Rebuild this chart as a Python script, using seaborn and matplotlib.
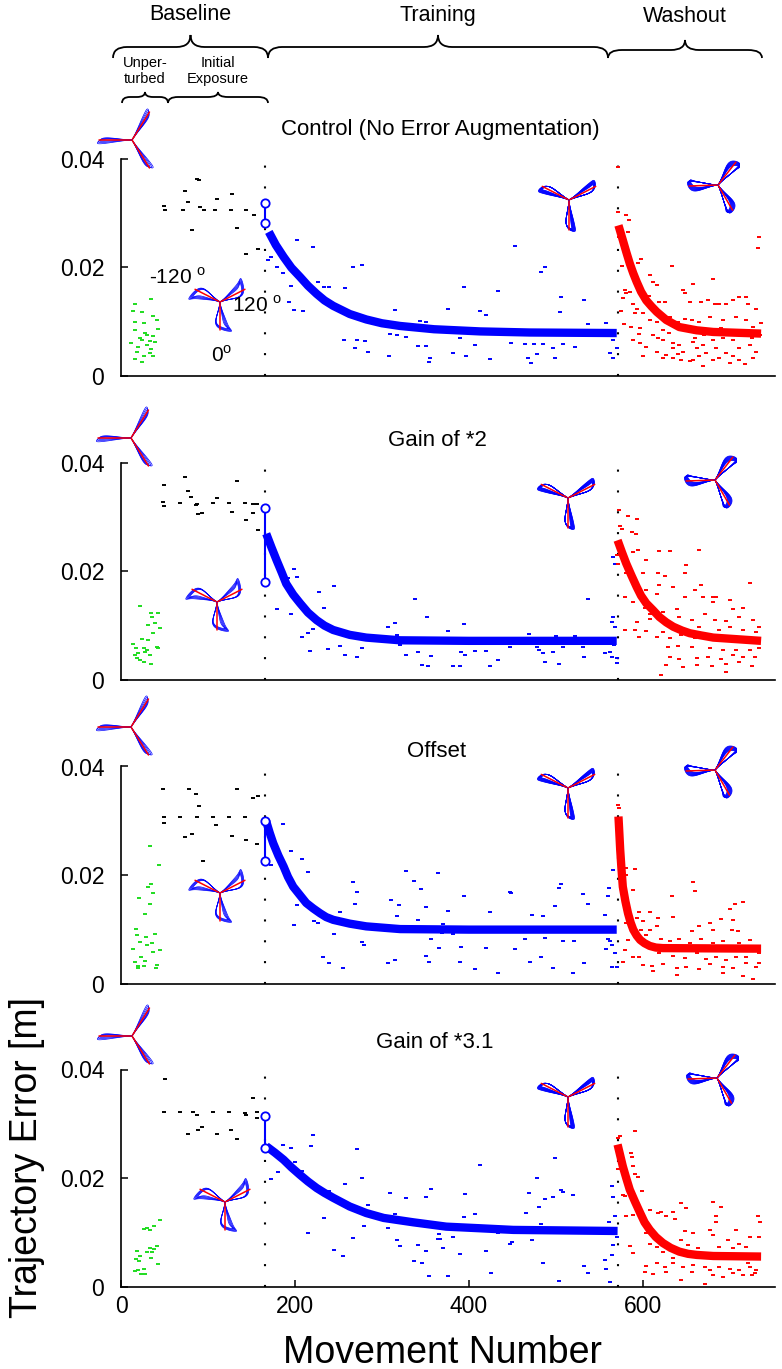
import numpy as np
import matplotlib
matplotlib.use("Agg")
import matplotlib.pyplot as plt
from matplotlib.path import Path
from matplotlib.patches import PathPatch
import seaborn as sns

W, H = 782, 1369

TITLES = ["Control (No Error Augmentation)", "Gain of *2", "Offset", "Gain of *3.1"]
PHASES = ["Baseline", "Training", "Washout"]
SUBPHASES = ["Unper-\nturbed", "Initial\nExposure"]
ANGLE_LABELS = ["-120", "120", "0"]
X_TICKS = [0, 200, 400, 600]
Y_TICKS = [0, 0.02, 0.04]
Y_TICKLABELS = ["0", "0.02", "0.04"]
TRAIN_START = 166
WASHOUT_START = 571

# ---------- panel 1 : control ----------
P1_GREEN = [(16, .0132), (35, .0141), (14, .0120), (24, .0117), (37, .0110), (41, .0103), (16, .0100),
            (26, .0097), (43, .0086), (16, .0084), (30, .0075), (37, .0073), (24, .0066), (33, .0065),
            (39, .0062), (20, .0054), (30, .0057), (35, .0049), (18, .0045), (33, .0042), (26, .0036),
            (16, .0031), (24, .0026), (37, .0037), (22, .0070), (28, .0080), (12, .0060)]
P1_BLACK = [(87, .0362), (90, .0360), (74, .0340), (110, .0326), (128, .0334), (77, .0320), (50, .0312),
            (71, .0305), (91, .0310), (95, .0306), (108, .0305), (127, .0305), (144, .0305), (153, .0297),
            (51, .0305), (82, .0269), (133, .0273), (144, .0225), (158, .0234)]
P1_BLUE = [(173, .0219), (179, .0201), (186, .0190), (202, .0251), (221, .0237), (195, .0166), (227, .0173),
           (233, .0164), (239, .0164), (257, .0162), (193, .0136), (199, .0121), (209, .0119), (267, .0201),
           (277, .0204), (256, .0067), (271, .0066), (280, .0065), (269, .0051), (284, .0045), (308, .0036),
           (309, .0078), (317, .0075), (328, .0071), (315, .0121), (344, .0102), (351, .0099), (376, .0124),
           (413, .0119), (420, .0112), (394, .0164), (434, .0157), (453, .0239), (487, .0201), (483, .0192),
           (506, .0146), (532, .0140), (505, .0117), (537, .0095), (558, .0098), (390, .0069), (407, .0057),
           (342, .0055), (351, .0056), (355, .0033), (354, .0026), (382, .0042), (397, .0037), (424, .0031),
           (449, .0060), (464, .0058), (475, .0058), (485, .0058), (497, .0051), (508, .0058), (522, .0053),
           (468, .0033), (472, .0023), (478, .0040), (499, .0033), (561, .0085), (564, .0078), (566, .0066),
           (562, .0042), (566, .0033), (570, .0051), (169, .0213)]
P1_RED = [(571, .0384), (581, .0297), (584, .0286), (583, .0265), (571, .0302), (573, .0256), (581, .0237),
          (576, .0202), (579, .0158), (581, .0152), (577, .0143), (585, .0155), (589, .0133), (598, .0215),
          (594, .0207), (591, .0115), (608, .0186), (612, .0173), (616, .0167), (607, .0147), (619, .0137),
          (625, .0137), (633, .0203), (658, .0170), (681, .0178), (646, .0158), (648, .0152), (654, .0137),
          (667, .0137), (675, .0140), (683, .0132), (688, .0132), (696, .0132), (704, .0140), (711, .0146),
          (719, .0146), (721, .0133), (730, .0124), (734, .0256), (733, .0236), (736, .0098), (593, .0124),
          (600, .0115), (608, .0103), (616, .0100), (623, .0085), (631, .0109), (640, .0100), (648, .0104),
          (656, .0103), (665, .0100), (677, .0109), (692, .0103), (707, .0109), (719, .0103), (727, .0091),
          (596, .0078), (612, .0075), (623, .0066), (635, .0060), (642, .0057), (658, .0063), (669, .0057),
          (681, .0066), (692, .0069), (704, .0066), (715, .0075), (723, .0057), (730, .0045), (604, .0054),
          (616, .0045), (627, .0039), (635, .0051), (646, .0045), (662, .0051), (673, .0042), (684, .0051),
          (696, .0042), (711, .0051), (623, .0033), (635, .0033), (644, .0030), (654, .0027), (669, .0019),
          (681, .0030), (688, .0033), (700, .0023), (711, .0030), (717, .0022), (727, .0033), (589, .0066),
          (600, .0036), (658, .0030), (665, .0036), (704, .0036), (575, .0120), (578, .0095), (586, .0090),
          (597, .0088), (630, .0080), (652, .0085), (670, .0075), (690, .0088), (700, .0080), (725, .0070),
          (735, .0075), (660, .0070), (618, .0070), (597, .0060), (640, .0040)]
P1_FIT_BLUE_X = [170, 178, 187, 196, 206, 215, 225, 234, 244, 263, 282, 300, 321, 360, 413, 470, 570]
P1_FIT_BLUE_Y = [.0265, .0241, .0219, .0199, .0182, .0166, .0151, .0139, .0129, .0114, .0104, .0097,
                 .0092, .0086, .0082, .0080, .0079]
P1_FIT_RED_X = [572, 577, 581, 585, 589, 593, 598, 604, 610, 616, 627, 642, 662, 681, 736]
P1_FIT_RED_Y = [.0277, .0250, .0228, .0207, .0189, .0173, .0155, .0139, .0128, .0118, .0103, .0090,
                .0084, .0081, .0078]
P1_START = [.0319, .0281]

# ---------- panel 2 : gain of 2 ----------
P2_GREEN = [(22, .0136), (35, .0124), (43, .0124), (36, .0116), (31, .0101), (39, .0105), (45, .0095),
            (37, .0086), (24, .0075), (14, .0067), (31, .0073), (26, .0058), (41, .0061), (30, .0056),
            (20, .0049), (16, .0046), (33, .0046), (28, .0052), (22, .0037), (18, .0040), (35, .0029),
            (26, .0034), (43, .0058), (17, .0058)]
P2_BLACK = [(74, .0374), (50, .0358), (133, .0366), (77, .0347), (81, .0336), (110, .0335), (87, .0324),
            (48, .0327), (49, .0320), (68, .0325), (86, .0321), (89, .0306), (93, .0308), (106, .0325),
            (124, .0325), (128, .0309), (143, .0325), (152, .0324), (156, .0323), (144, .0295), (152, .0308),
            (158, .0275)]
P2_BLUE = [(199, .0204), (202, .0190), (192, .0187), (179, .0130), (195, .0122), (228, .0162), (245, .0172),
           (233, .0133), (208, .0080), (215, .0087), (221, .0093), (217, .0054), (238, .0057), (252, .0062),
           (257, .0046), (271, .0042), (277, .0058), (275, .0083), (307, .0098), (315, .0105), (317, .0083),
           (321, .0064), (328, .0046), (338, .0149), (342, .0052), (346, .0027), (353, .0025), (352, .0115),
           (356, .0044), (376, .0090), (382, .0026), (390, .0025), (391, .0052), (396, .0046), (394, .0103),
           (407, .0054), (420, .0054), (424, .0026), (434, .0036), (447, .0061), (464, .0078), (469, .0084),
           (478, .0060), (481, .0055), (485, .0050), (487, .0034), (497, .0051), (500, .0081), (504, .0029),
           (508, .0061), (522, .0081), (531, .0061), (532, .0043), (537, .0149), (557, .0049), (562, .0052),
           (564, .0043), (566, .0116), (565, .0107), (568, .0098), (567, .0064), (570, .0040), (570, .0031),
           (568, .0214), (566, .0226)]
P2_RED = [(573, .0313), (583, .0301), (593, .0297), (574, .0284), (576, .0278), (587, .0272), (592, .0269),
          (570, .0229), (571, .0214), (589, .0236), (594, .0240), (619, .0237), (631, .0237), (665, .0240),
          (604, .0220), (650, .0212), (648, .0197), (581, .0196), (600, .0196), (617, .0196), (625, .0191),
          (593, .0165), (604, .0165), (619, .0174), (635, .0171), (667, .0174), (723, .0179), (579, .0153),
          (589, .0143), (616, .0159), (648, .0153), (660, .0165), (669, .0152), (681, .0153), (684, .0153),
          (700, .0147), (602, .0132), (608, .0122), (623, .0125), (639, .0130), (681, .0144), (704, .0130),
          (715, .0132), (593, .0107), (608, .0113), (625, .0108), (642, .0116), (656, .0110), (671, .0122),
          (683, .0110), (696, .0109), (711, .0116), (727, .0110), (579, .0092), (591, .0092), (604, .0091),
          (623, .0089), (635, .0095), (650, .0092), (665, .0098), (688, .0092), (700, .0097), (715, .0092),
          (730, .0089), (734, .0098), (596, .0080), (616, .0080), (631, .0078), (644, .0083), (660, .0078),
          (677, .0080), (696, .0081), (711, .0077), (727, .0074), (629, .0061), (640, .0062), (656, .0060),
          (677, .0058), (692, .0056), (707, .0055), (723, .0056), (734, .0058), (631, .0042), (642, .0038),
          (662, .0040), (675, .0042), (690, .0038), (704, .0046), (715, .0043), (729, .0043), (627, .0027),
          (646, .0023), (662, .0027), (679, .0026), (696, .0029), (711, .0034), (725, .0026), (621, .0009),
          (696, .0015)]
P2_FIT_BLUE_X = [167, 173, 179, 185, 190, 198, 206, 215, 225, 234, 244, 263, 282, 321, 400, 570]
P2_FIT_BLUE_Y = [.0269, .0244, .0220, .0197, .0177, .0157, .0141, .0124, .0110, .0100, .0092, .0083,
                 .0078, .0073, .0072, .0072]
P2_FIT_RED_X = [571, 576, 581, 587, 593, 598, 604, 612, 619, 627, 635, 645, 654, 667, 681, 736]
P2_FIT_RED_Y = [.0257, .0235, .0214, .0192, .0171, .0155, .0141, .0128, .0116, .0106, .0098, .0091,
                .0086, .0082, .0078, .0072]
P2_START = [.0317, .0180]

# ---------- panel 3 : offset ----------
P3_GREEN = [(33, .0254), (44, .0218), (34, .0184), (31, .0178), (37, .0167), (21, .0159), (33, .0148),
            (28, .0128), (17, .0101), (18, .0090), (39, .0092), (22, .0077), (29, .0086), (36, .0076),
            (14, .0065), (30, .0072), (45, .0063), (37, .0058), (23, .0049), (28, .0043), (16, .0040),
            (20, .0034), (26, .0034), (41, .0035), (40, .0029), (19, .0030)]
P3_BLACK = [(48, .0359), (78, .0359), (86, .0350), (133, .0359), (90, .0328), (152, .0342), (158, .0345),
            (49, .0307), (68, .0307), (87, .0307), (106, .0307), (124, .0307), (143, .0307), (50, .0296),
            (109, .0293), (82, .0275), (74, .0270), (128, .0272), (144, .0264), (156, .0258), (94, .0227)]
P3_BLUE = [(186, .0294), (172, .0219), (195, .0244), (208, .0230), (215, .0206), (202, .0146), (199, .0108),
           (222, .0116), (227, .0113), (252, .0132), (267, .0187), (271, .0169), (269, .0147), (245, .0092),
           (277, .0078), (279, .0072), (232, .0050), (239, .0038), (255, .0029), (328, .0207), (364, .0205),
           (337, .0189), (345, .0175), (310, .0154), (320, .0146), (317, .0125), (351, .0141), (376, .0135),
           (394, .0161), (342, .0117), (370, .0110), (369, .0093), (382, .0092), (424, .0133), (447, .0170),
           (449, .0167), (506, .0183), (504, .0176), (531, .0165), (537, .0147), (499, .0144), (473, .0126),
           (485, .0125), (560, .0162), (556, .0127), (566, .0210), (561, .0176), (356, .0082), (366, .0067),
           (391, .0068), (420, .0066), (453, .0064), (464, .0082), (487, .0084), (508, .0080), (521, .0080),
           (560, .0082), (562, .0080), (558, .0064), (564, .0072), (568, .0057), (351, .0052), (354, .0040),
           (390, .0041), (407, .0028), (434, .0021), (470, .0041), (483, .0049), (497, .0030), (520, .0020),
           (532, .0038), (564, .0032), (570, .0032), (315, .0045), (307, .0039)]
P3_RED = [(571, .0330), (573, .0324), (581, .0214), (591, .0212), (581, .0201), (589, .0172), (658, .0187),
          (660, .0171), (633, .0162), (715, .0151), (706, .0148), (700, .0138), (596, .0132), (608, .0132),
          (617, .0121), (593, .0121), (600, .0115), (635, .0123), (690, .0120), (704, .0117), (581, .0112),
          (598, .0100), (608, .0100), (616, .0106), (656, .0098), (665, .0106), (677, .0113), (681, .0100),
          (702, .0100), (709, .0097), (593, .0086), (604, .0090), (621, .0082), (631, .0080), (642, .0083),
          (654, .0075), (667, .0082), (681, .0076), (692, .0079), (711, .0075), (723, .0081), (589, .0050),
          (596, .0050), (619, .0057), (635, .0052), (648, .0047), (662, .0057), (673, .0046), (684, .0050),
          (696, .0044), (707, .0050), (719, .0049), (734, .0057), (577, .0040), (600, .0035), (610, .0034),
          (623, .0036), (639, .0029), (650, .0032), (665, .0028), (677, .0036), (692, .0032), (704, .0030),
          (719, .0038), (730, .0032), (612, .0023), (639, .0017), (692, .0020), (715, .0014), (727, .0010),
          (734, .0038), (579, .0063), (583, .0081), (646, .0069), (681, .0063)]
P3_FIT_BLUE_X = [167, 171, 175, 181, 187, 192, 198, 206, 213, 221, 229, 236, 244, 263, 282, 321, 400, 570]
P3_FIT_BLUE_Y = [.0299, .0278, .0259, .0236, .0216, .0197, .0179, .0163, .0149, .0139, .0130, .0123,
                 .0118, .0111, .0106, .0101, .0100, .0100]
P3_FIT_RED_X = [572, 573, 574, 575.5, 577, 580, 583, 586, 589, 593, 597, 602, 608, 615, 623, 736]
P3_FIT_RED_Y = [.0308, .0278, .0247, .0211, .0179, .0152, .0130, .0113, .0100, .0089, .0081, .0075,
                .0070, .0067, .0066, .0065]
P3_START = [.0299, .0227]

# ---------- panel 4 : gain of 3.1 ----------
P4_GREEN = [(45, .0124), (38, .0113), (26, .0106), (33, .0105), (30, .0108), (41, .0076), (33, .0071),
            (38, .0069), (36, .0064), (18, .0066), (30, .0064), (22, .0057), (17, .0051), (35, .0053),
            (43, .0042), (21, .0047), (26, .0034), (16, .0030), (23, .0024), (28, .0024), (20, .0031)]
P4_BLACK = [(51, .0383), (152, .0348), (49, .0322), (68, .0322), (83, .0322), (87, .0316), (106, .0322),
            (124, .0322), (143, .0320), (144, .0317), (156, .0322), (156, .0311), (93, .0294), (89, .0289),
            (77, .0282), (110, .0281), (127, .0288), (133, .0272)]
P4_BLUE = [(186, .0262), (195, .0256), (221, .0280), (218, .0260), (200, .0230), (208, .0214), (180, .0211),
           (172, .0199), (271, .0254), (277, .0200), (257, .0190), (239, .0177), (284, .0150), (233, .0127),
           (215, .0100), (279, .0113), (267, .0091), (245, .0068), (255, .0057), (309, .0173), (315, .0135),
           (307, .0109), (328, .0163), (351, .0165), (356, .0181), (396, .0171), (413, .0225), (407, .0135),
           (394, .0129), (499, .0238), (478, .0200), (469, .0173), (487, .0161), (497, .0165), (506, .0179),
           (508, .0174), (520, .0170), (481, .0148), (466, .0136), (483, .0116), (464, .0111), (317, .0087),
           (321, .0076), (342, .0078), (351, .0067), (366, .0097), (367, .0088), (365, .0089), (370, .0071),
           (382, .0092), (390, .0061), (420, .0067), (434, .0099), (447, .0079), (450, .0082), (473, .0087),
           (485, .0045), (425, .0026), (376, .0021), (354, .0020), (337, .0047), (346, .0045), (504, .0011),
           (532, .0038), (537, .0025), (558, .0033), (562, .0010), (564, .0059), (557, .0050), (566, .0077),
           (565, .0185), (566, .0165), (568, .0130), (561, .0119), (570, .0092)]
P4_RED = [(571, .0274), (574, .0277), (591, .0286), (571, .0217), (586, .0246), (587, .0240), (589, .0222),
          (591, .0208), (594, .0203), (599, .0176), (577, .0170), (580, .0167), (589, .0133), (581, .0130),
          (593, .0142), (608, .0142), (617, .0136), (621, .0138), (635, .0138), (644, .0154), (650, .0145),
          (627, .0130), (637, .0125), (681, .0156), (690, .0147), (684, .0131), (684, .0119), (732, .0131),
          (735, .0120), (604, .0099), (608, .0080), (585, .0076), (589, .0062), (616, .0074), (623, .0065),
          (635, .0053), (648, .0103), (644, .0087), (658, .0099), (652, .0077), (663, .0071), (677, .0105),
          (681, .0096), (688, .0074), (698, .0087), (707, .0104), (711, .0079), (704, .0071), (723, .0092),
          (719, .0074), (734, .0092), (604, .0039), (616, .0044), (625, .0037), (635, .0044), (646, .0037),
          (658, .0041), (671, .0037), (677, .0031), (688, .0037), (700, .0033), (711, .0031), (723, .0037),
          (730, .0031), (602, .0028), (612, .0024), (627, .0028), (644, .0012), (656, .0028), (671, .0005),
          (681, .0022), (692, .0019), (704, .0025), (715, .0022), (725, .0022), (729, .0026), (721, .0044),
          (669, .0059), (681, .0056), (696, .0057), (715, .0059)]
P4_FIT_BLUE_X = [167, 177, 187, 196, 206, 215, 225, 234, 244, 263, 282, 302, 336, 374, 413, 451, 571]
P4_FIT_BLUE_Y = [.0259, .0247, .0234, .0220, .0206, .0194, .0182, .0173, .0164, .0148, .0136, .0127,
                 .0119, .0111, .0108, .0105, .0103]
P4_FIT_RED_X = [571, 574, 577, 581, 585, 591, 597, 602, 608, 615, 623, 632, 642, 652, 662, 681, 736]
P4_FIT_RED_Y = [.0262, .0242, .0222, .0200, .0179, .0157, .0136, .0119, .0105, .0092, .0081, .0072,
                .0065, .0061, .0059, .0057, .0056]
P4_START = [.0315, .0256]

GREEN = [P1_GREEN, P2_GREEN, P3_GREEN, P4_GREEN]
BLACK = [P1_BLACK, P2_BLACK, P3_BLACK, P4_BLACK]
BLUE = [P1_BLUE, P2_BLUE, P3_BLUE, P4_BLUE]
RED = [P1_RED, P2_RED, P3_RED, P4_RED]
FIT_BLUE = [(P1_FIT_BLUE_X, P1_FIT_BLUE_Y), (P2_FIT_BLUE_X, P2_FIT_BLUE_Y),
            (P3_FIT_BLUE_X, P3_FIT_BLUE_Y), (P4_FIT_BLUE_X, P4_FIT_BLUE_Y)]
FIT_RED = [(P1_FIT_RED_X, P1_FIT_RED_Y), (P2_FIT_RED_X, P2_FIT_RED_Y),
           (P3_FIT_RED_X, P3_FIT_RED_Y), (P4_FIT_RED_X, P4_FIT_RED_Y)]
START = [P1_START, P2_START, P3_START, P4_START]

# ---------- layout (pixels) ----------
AX_LEFT, AX_RIGHT, AX_H = 121, 775, 217.5
AX_BOTTOMS = [376, 680, 984, 1287]
TITLE_POS = [(440, 130), (437, 440), (437, 752), (435, 1042)]
ICONS = [  # (cx, cy, kind)
    [(132, 140, "base"), (220, 302, "expo"), (569, 200, "train"), (718, 185, "wash")],
    [(131, 438, "base"), (217, 602, "expo"), (568, 498, "train"), (715, 480, "wash")],
    [(131, 727, "base"), (220, 893, "expo"), (568, 788, "train"), (715, 770, "wash")],
    [(132, 1036, "base"), (225, 1202, "expo"), (568, 1097, "train"), (717, 1078, "wash")],
]
ICON_STYLE = {  # arm px, angles, loop width, hook, traces
    "base": (33, [180, 58, -58], 0.05, 0.04, 4),
    "expo": (28, [-90, 153, 27], 0.17, 0.32, 5),
    "train": (30, [-90, 153, 27], 0.11, 0.12, 12),
    "wash": (29, [182, 52, -60], 0.13, -0.14, 12),
}

BLUE_C, RED_C, GREEN_C = "#0000ff", "#ff0000", "#1fdc1f"

sns.set_theme(style="ticks", rc={"axes.edgecolor": "black", "text.color": "black",
                                 "xtick.color": "black", "ytick.color": "black",
                                 "axes.linewidth": 1.2})
plt.rcParams["font.family"] = ["Liberation Sans", "DejaVu Sans"]
plt.rcParams["mathtext.fontset"] = "custom"
plt.rcParams["mathtext.rm"] = "Liberation Sans"

fig = plt.figure(figsize=(W / 100, H / 100), dpi=100)


def ftext(px, py, s, **kw):
    fig.text(px / W, 1 - py / H, s, **kw)


def brace(x0, x1, y_line, y_tip, y_end, r=14):
    xm = (x0 + x1) / 2
    pts = [(x0, y_end), (x0, y_line), (x0 + r, y_line), (xm - r, y_line), (xm, y_line), (xm, y_tip),
           (xm, y_line), (xm + r, y_line), (x1 - r, y_line), (x1, y_line), (x1, y_end)]
    codes = [Path.MOVETO, Path.CURVE3, Path.CURVE3, Path.LINETO, Path.CURVE3, Path.CURVE3,
             Path.CURVE3, Path.CURVE3, Path.LINETO, Path.CURVE3, Path.CURVE3]
    verts = [(x / W, 1 - y / H) for x, y in pts]
    fig.add_artist(PathPatch(Path(verts, codes), transform=fig.transFigure,
                             fill=False, lw=1.3, edgecolor="black"))


def draw_icon(cx, cy, kind):
    arm, angles, width, hook, n = ICON_STYLE[kind]
    half = arm * 1.4
    iax = fig.add_axes([(cx - half) / W, 1 - (cy + half) / H, 2 * half / W, 2 * half / H])
    iax.set_xlim(-1.4, 1.4)
    iax.set_ylim(-1.4, 1.4)
    iax.axis("off")
    t = np.linspace(0, 1, 90)
    for ang in angles:
        a = np.deg2rad(ang)
        ux, uy = np.cos(a), np.sin(a)
        vx, vy = -uy, ux
        for k in range(n):
            sp = (k - (n - 1) / 2) / max(n - 1, 1)
            along = np.sin(np.pi * t) ** 0.7 * (1.0 + 0.1 * sp)
            side = (width * (1 + 0.5 * sp) * np.sin(2 * np.pi * t)
                    + hook * np.sin(np.pi * t) ** 6 + 0.1 * sp * np.sin(np.pi * t))
            iax.plot(along * ux + side * vx, along * uy + side * vy, color=BLUE_C, lw=0.5)
        iax.plot([0, ux], [0, uy], color=RED_C, lw=1.1)


for i in range(4):
    ax = fig.add_axes([AX_LEFT / W, 1 - AX_BOTTOMS[i] / H, (AX_RIGHT - AX_LEFT) / W, AX_H / H])
    for xv in (TRAIN_START, WASHOUT_START):
        ax.axvline(xv, color="black", lw=1.5, ls=(0, (1, 9)), zorder=1)

    for pts, col in ((GREEN[i], GREEN_C), (BLACK[i], "black"), (BLUE[i], BLUE_C), (RED[i], RED_C)):
        xs, ys = np.array(pts).T
        sns.scatterplot(x=xs, y=ys, marker="_", color=col, s=10, linewidth=1.4, ax=ax,
                        legend=False, zorder=2)

    bx, by = FIT_BLUE[i]
    rx, ry = FIT_RED[i]
    sns.lineplot(x=bx, y=by, color=BLUE_C, linewidth=6, estimator=None, sort=False, ax=ax,
                 zorder=3, solid_capstyle="butt")
    sns.lineplot(x=rx, y=ry, color=RED_C, linewidth=6, estimator=None, sort=False, ax=ax,
                 zorder=3, solid_capstyle="butt")
    ax.plot([TRAIN_START, TRAIN_START], START[i], "o-", color=BLUE_C, mfc="white", ms=6,
            mew=1.3, lw=1.5, zorder=4)

    ax.set_xlim(0, 752)
    ax.set_ylim(0, 0.04)
    ax.set_yticks(Y_TICKS)
    ax.set_yticklabels(Y_TICKLABELS)
    ax.tick_params(direction="in", length=5, width=1.1, labelsize=16.5)
    ax.tick_params(axis="y", pad=12)
    if i < 3:
        ax.set_xticks([])
    else:
        ax.set_xticks(X_TICKS)
        ax.tick_params(axis="x", pad=6)
    ax.set_xlabel("")
    ax.set_ylabel("")
    sns.despine(ax=ax)
    ax.patch.set_alpha(0)

    ftext(*TITLE_POS[i], TITLES[i], ha="center", va="center", fontsize=16)
    for cx, cy, kind in ICONS[i]:
        draw_icon(cx, cy, kind)

# angle labels around the first exposure icon
ftext(178, 277, ANGLE_LABELS[0] + r" $^{\mathregular{o}}$", ha="center", va="center", fontsize=15)
ftext(257, 305, ANGLE_LABELS[1] + r" $^{\mathregular{o}}$", ha="center", va="center", fontsize=15)
ftext(222, 355, ANGLE_LABELS[2] + r"$^{\mathregular{o}}$", ha="center", va="center", fontsize=15)

# phase header
ftext(190, 15, PHASES[0], ha="center", va="center", fontsize=15.5)
ftext(438, 16, PHASES[1], ha="center", va="center", fontsize=15.5)
ftext(685, 16, PHASES[2], ha="center", va="center", fontsize=15.5)
brace(113, 268, 47, 35, 58)
brace(268, 608, 47, 35, 58)
brace(608, 762, 50, 40, 58)
ftext(145, 71, SUBPHASES[0], ha="center", va="center", fontsize=10.5, linespacing=1.15)
ftext(218, 71, SUBPHASES[1], ha="center", va="center", fontsize=10.5, linespacing=1.15)
brace(122, 168, 97, 92, 103, r=8)
brace(168, 268, 97, 92, 103, r=10)

ftext(442, 1363, "Movement Number", ha="center", va="baseline", fontsize=27)
ftext(27, 1157, "Trajectory Error [m]", ha="center", va="center", rotation=90, fontsize=27)

fig.savefig("out.png", dpi=100)
